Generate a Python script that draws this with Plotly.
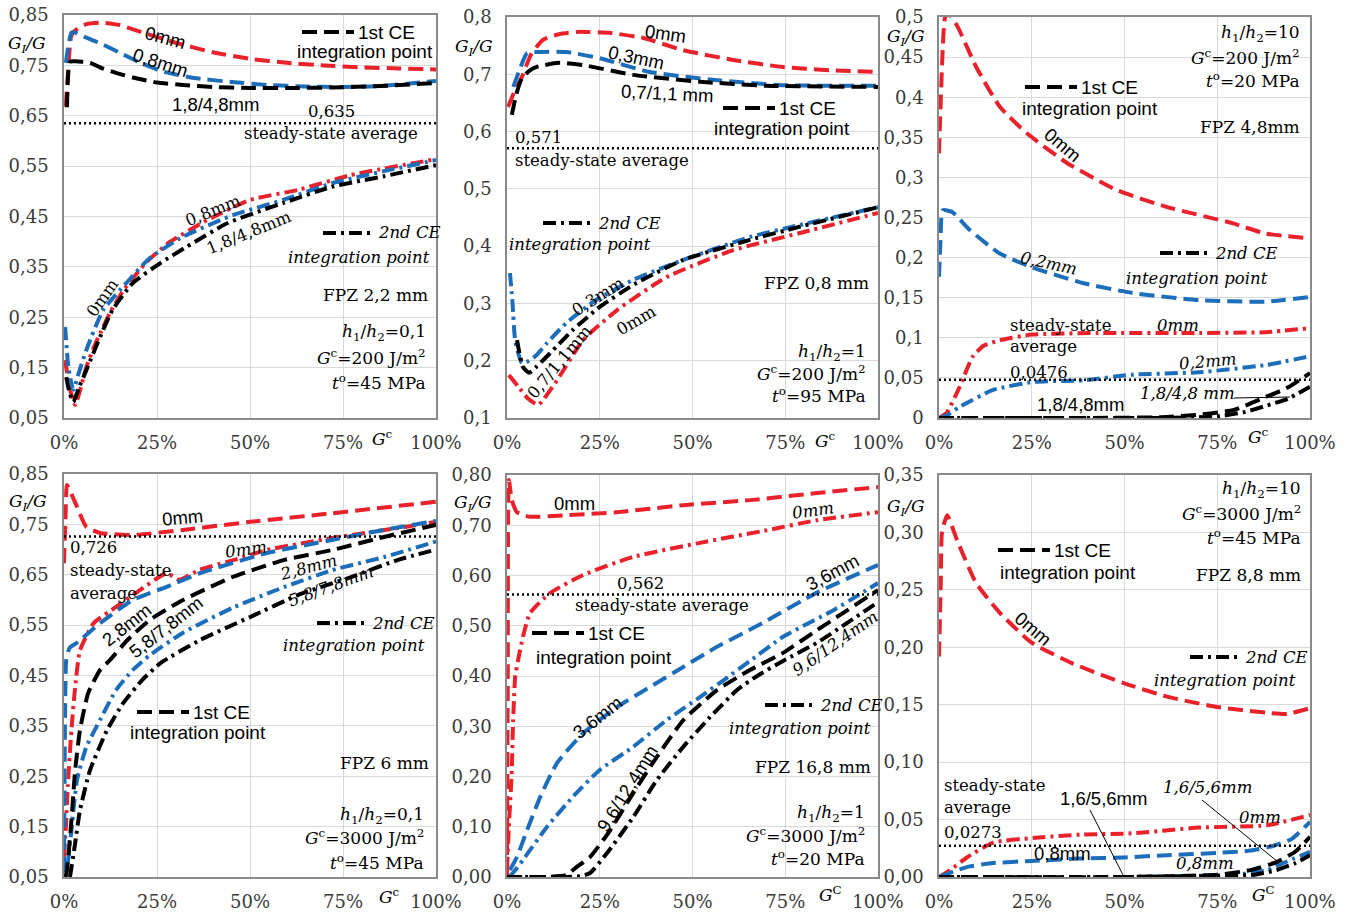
import plotly.graph_objects as go

W, H = 1352, 912
RED = "#E8212B"
BLUE = "#1C6DBA"
BLACK = "#000000"
SERIF = "DejaVu Serif"
SANS = "Liberation Sans"
DASH_1ST = "15px,7px"
DASH_2ND = "13px,5px,3px,5px"
LW = 4

# ---------------- axis ticks ----------------
x_ticks = [0, 25, 50, 75, 100]
x_labels = ["0%", "25%", "50%", "75%", "100%"]

a_yticks = [0.05, 0.15, 0.25, 0.35, 0.45, 0.55, 0.65, 0.75, 0.85]
a_ylabels = ["0,05", "0,15", "0,25", "0,35", "0,45", "0,55", "0,65", "0,75", "0,85"]
b_yticks = [0.1, 0.2, 0.3, 0.4, 0.5, 0.6, 0.7, 0.8]
b_ylabels = ["0,1", "0,2", "0,3", "0,4", "0,5", "0,6", "0,7", "0,8"]
c_yticks = [0, 0.05, 0.1, 0.15, 0.2, 0.25, 0.3, 0.35, 0.4, 0.45, 0.5]
c_ylabels = ["0", "0,05", "0,1", "0,15", "0,2", "0,25", "0,3", "0,35", "0,4", "0,45", "0,5"]
d_yticks = a_yticks
d_ylabels = a_ylabels
e_yticks = [0, 0.1, 0.2, 0.3, 0.4, 0.5, 0.6, 0.7, 0.8]
e_ylabels = ["0,00", "0,10", "0,20", "0,30", "0,40", "0,50", "0,60", "0,70", "0,80"]
f_yticks = [0, 0.05, 0.1, 0.15, 0.2, 0.25, 0.3, 0.35]
f_ylabels = ["0,00", "0,05", "0,10", "0,15", "0,20", "0,25", "0,30", "0,35"]

# steady-state averages of G_I/G, one per panel
steady_avg = [0.635, 0.571, 0.0476, 0.726, 0.562, 0.0273]

# ---------------- panel a: h1/h2=0,1  Gc=200  to=45 ----------------
a_ce1_0mm_x = [0.5, 1.2, 2, 3.5, 6, 10, 15, 20, 30, 40, 50, 60, 70, 80, 90, 100]
a_ce1_0mm_y = [0.668, 0.75, 0.81, 0.822, 0.832, 0.835, 0.83, 0.818, 0.795, 0.776, 0.763, 0.755, 0.75, 0.746, 0.744, 0.742]
a_ce1_08_x = [0.5, 1.2, 2, 3, 6, 10, 15, 20, 27, 35, 45, 55, 65, 75, 85, 100]
a_ce1_08_y = [0.755, 0.79, 0.815, 0.815, 0.805, 0.793, 0.775, 0.757, 0.737, 0.725, 0.717, 0.711, 0.708, 0.707, 0.709, 0.719]
a_ce1_far_x = [0.8, 1.6, 3, 5, 7, 10, 14, 18.5, 25, 32, 40, 50, 60, 72, 85, 100]
a_ce1_far_y = [0.667, 0.757, 0.758, 0.757, 0.755, 0.745, 0.735, 0.726, 0.716, 0.711, 0.707, 0.705, 0.705, 0.706, 0.709, 0.715]
a_ce2_0mm_x = [0.3, 1.5, 3, 4.5, 6, 8, 10, 12.3, 16, 22, 28, 38.5, 50, 63, 77, 100]
a_ce2_0mm_y = [0.165, 0.11, 0.076, 0.11, 0.151, 0.19, 0.222, 0.258, 0.304, 0.358, 0.397, 0.443, 0.483, 0.503, 0.532, 0.564]
a_ce2_08_x = [0.3, 1.2, 2.5, 4, 6, 10.5, 17, 23, 32, 45.5, 59, 72, 86, 100]
a_ce2_08_y = [0.231, 0.15, 0.106, 0.14, 0.185, 0.264, 0.32, 0.367, 0.41, 0.453, 0.483, 0.516, 0.54, 0.562]
a_ce2_far_x = [0.6, 1.5, 2.5, 4, 6, 9.7, 13, 18.5, 26, 33, 44, 59, 72, 86, 100]
a_ce2_far_y = [0.131, 0.1, 0.082, 0.11, 0.145, 0.211, 0.264, 0.318, 0.358, 0.39, 0.437, 0.477, 0.509, 0.53, 0.552]

# ---------------- panel b: h1/h2=1  Gc=200  to=95 ----------------
b_ce1_0mm_x = [0.3, 2, 4, 6.5, 9.7, 14, 19, 28, 37, 47.5, 61, 74, 87, 100]
b_ce1_0mm_y = [0.643, 0.67, 0.695, 0.735, 0.76, 0.77, 0.774, 0.772, 0.763, 0.742, 0.725, 0.713, 0.707, 0.704]
b_ce1_03_x = [1.7, 3.5, 5.4, 9, 16, 25, 38.5, 56, 74, 100]
b_ce1_03_y = [0.678, 0.71, 0.737, 0.739, 0.739, 0.728, 0.704, 0.69, 0.681, 0.68]
b_ce1_far_x = [1.3, 2.5, 4, 6, 8, 14, 20.5, 34, 52, 70, 100]
b_ce1_far_y = [0.629, 0.665, 0.693, 0.706, 0.713, 0.72, 0.716, 0.699, 0.687, 0.68, 0.678]
b_ce2_0mm_x = [0.5, 3, 5.5, 8.4, 13.5, 20.5, 29.6, 43, 61, 79, 100]
b_ce2_0mm_y = [0.175, 0.155, 0.135, 0.123, 0.166, 0.236, 0.288, 0.346, 0.393, 0.423, 0.458]
b_ce2_03_x = [0.8, 1.5, 2.2, 4, 6, 8, 10.8, 16, 24, 34, 47.5, 65.5, 79, 100]
b_ce2_03_y = [0.353, 0.3, 0.236, 0.196, 0.2, 0.21, 0.231, 0.266, 0.306, 0.341, 0.376, 0.416, 0.437, 0.468]
b_ce2_far_x = [2.7, 4.3, 6, 8, 11.6, 17.8, 25, 35, 47.5, 65.5, 79, 100]
b_ce2_far_y = [0.236, 0.189, 0.179, 0.19, 0.213, 0.254, 0.294, 0.336, 0.376, 0.411, 0.434, 0.468]

# ---------------- panel c: h1/h2=10  Gc=200  to=20 ----------------
c_ce1_0mm_x = [0, 0.5, 1, 1.6, 2.5, 5, 10, 16.4, 23.7, 34.5, 48, 61.5, 79, 88, 100]
c_ce1_0mm_y = [0.33, 0.4, 0.46, 0.499, 0.505, 0.488, 0.438, 0.388, 0.355, 0.318, 0.284, 0.263, 0.243, 0.23, 0.224]
c_ce1_02_x = [0, 0.4, 1, 3.5, 8.4, 16.4, 25, 39, 52, 70, 88, 100]
c_ce1_02_y = [0.176, 0.22, 0.259, 0.257, 0.234, 0.205, 0.188, 0.168, 0.156, 0.147, 0.145, 0.151]
c_ce1_far_x = [0, 20, 40, 60, 70, 79.5, 88, 94, 100]
c_ce1_far_y = [0, 0, 0, 0.001, 0.004, 0.01, 0.026, 0.038, 0.056]
c_ce2_0mm_x = [0, 2, 5.6, 9, 12, 16.4, 25, 43, 70, 88, 100]
c_ce2_0mm_y = [0, 0.006, 0.039, 0.076, 0.09, 0.097, 0.104, 0.106, 0.106, 0.107, 0.112]
c_ce2_02_x = [0, 2, 5.6, 14.6, 25.5, 39, 52, 70, 88, 100]
c_ce2_02_y = [0, 0.003, 0.014, 0.035, 0.045, 0.047, 0.054, 0.057, 0.066, 0.077]
c_ce2_far_x = [0, 30, 60, 75, 82, 88, 94, 100]
c_ce2_far_y = [0, 0, 0, 0.002, 0.007, 0.015, 0.024, 0.039]

# ---------------- panel d: h1/h2=0,1  Gc=3000  to=45 ----------------
d_ce1_0mm_x = [0, 0.4, 0.8, 2, 3.5, 6, 9.7, 18.5, 32, 50, 72, 100]
d_ce1_0mm_y = [0.673, 0.76, 0.828, 0.81, 0.785, 0.745, 0.733, 0.729, 0.739, 0.755, 0.772, 0.795]
d_ce1_28_x = [0, 0.3, 0.6, 1.5, 3.5, 9.7, 18.5, 27.6, 36.5, 54.5, 72, 86, 100]
d_ce1_28_y = [0.06, 0.38, 0.48, 0.505, 0.515, 0.554, 0.6, 0.626, 0.653, 0.693, 0.719, 0.739, 0.757]
d_ce1_far_x = [0.4, 0.8, 2, 3, 4.3, 6.5, 9.7, 12.4, 17, 23, 32, 45.5, 59, 72, 86, 100]
d_ce1_far_y = [0.05, 0.064, 0.163, 0.262, 0.342, 0.415, 0.461, 0.481, 0.52, 0.56, 0.6, 0.646, 0.679, 0.699, 0.725, 0.749]
d_ce2_0mm_x = [0, 0.5, 1, 2, 3, 4.3, 8, 14, 20.5, 27.6, 31, 36.5, 45.5, 54.5, 72, 90, 100]
d_ce2_0mm_y = [0.09, 0.15, 0.229, 0.342, 0.427, 0.5, 0.554, 0.586, 0.62, 0.653, 0.64, 0.66, 0.679, 0.699, 0.723, 0.743, 0.755]
d_ce2_28_x = [1, 2, 3.5, 6, 9.7, 14, 18.5, 23, 32, 45.5, 59, 72, 86, 100]
d_ce2_28_y = [0.077, 0.143, 0.243, 0.308, 0.362, 0.421, 0.461, 0.49, 0.535, 0.585, 0.625, 0.659, 0.685, 0.716]
d_ce2_far_x = [1.6, 3, 4.3, 7, 11.6, 15.9, 21, 26, 36.5, 50, 63, 77, 90, 100]
d_ce2_far_y = [0.05, 0.117, 0.183, 0.262, 0.342, 0.395, 0.441, 0.475, 0.52, 0.566, 0.61, 0.645, 0.68, 0.7]

# ---------------- panel e: h1/h2=1  Gc=3000  to=20 ----------------
e_ce1_0mm_x = [0, 0.2, 0.5, 1.3, 2.7, 6, 16, 29.6, 47.5, 65.5, 83.5, 100]
e_ce1_0mm_y = [0.0, 0.4, 0.79, 0.75, 0.726, 0.717, 0.72, 0.726, 0.74, 0.75, 0.764, 0.776]
e_ce1_36_x = [0.8, 2.7, 5.4, 9, 13.5, 20.5, 29.6, 38.5, 47.5, 56.6, 70, 83.5, 100]
e_ce1_36_y = [0.014, 0.04, 0.093, 0.16, 0.227, 0.286, 0.338, 0.378, 0.418, 0.458, 0.51, 0.566, 0.621]
e_ce1_far_x = [0, 10, 16, 18.8, 22.4, 27.8, 34, 40.4, 47.5, 56.6, 65.5, 74.4, 83.5, 100]
e_ce1_far_y = [0, 0, 0.004, 0.02, 0.04, 0.093, 0.167, 0.239, 0.312, 0.372, 0.412, 0.446, 0.491, 0.571]
e_ce2_0mm_x = [0, 0.5, 1.3, 1.6, 2.2, 3, 4.3, 6.2, 11.6, 20.5, 34, 52, 70, 83.5, 100]
e_ce2_0mm_y = [0.014, 0.1, 0.213, 0.3, 0.398, 0.432, 0.478, 0.525, 0.565, 0.601, 0.637, 0.665, 0.69, 0.71, 0.726]
e_ce2_36_x = [0.5, 1.6, 4.3, 10.8, 17.8, 25, 34, 43, 52, 59, 65.5, 74.4, 88, 100]
e_ce2_36_y = [0, 0.008, 0.034, 0.1, 0.16, 0.213, 0.259, 0.312, 0.358, 0.395, 0.43, 0.478, 0.531, 0.585]
e_ce2_far_x = [0, 15, 20, 22.4, 27, 34, 40.4, 47.5, 54.7, 62, 67.4, 74.4, 83.5, 100]
e_ce2_far_y = [0, 0, 0.002, 0.008, 0.048, 0.119, 0.193, 0.259, 0.318, 0.372, 0.4, 0.43, 0.466, 0.547]

# ---------------- panel f: h1/h2=10  Gc=3000  to=45 ----------------
f_ce1_0mm_x = [0, 0.5, 0.8, 2.2, 4.9, 10, 16.4, 25, 36, 49.6, 61.5, 75, 88.4, 93.8, 100]
f_ce1_0mm_y = [0.192, 0.26, 0.3, 0.315, 0.293, 0.256, 0.23, 0.204, 0.186, 0.169, 0.157, 0.148, 0.143, 0.142, 0.147]
f_ce1_08_x = [0, 4, 8, 14, 25, 38, 50, 61.5, 75, 84, 90, 95, 100]
f_ce1_08_y = [0, 0.005, 0.009, 0.012, 0.014, 0.016, 0.017, 0.019, 0.021, 0.023, 0.027, 0.033, 0.048]
f_ce1_far_x = [0, 50, 75, 84, 91, 96, 100]
f_ce1_far_y = [0, 0, 0.002, 0.006, 0.013, 0.022, 0.035]
f_ce2_0mm_x = [0, 3, 7.5, 14.6, 25.3, 38.8, 52, 70, 88.4, 100]
f_ce2_0mm_y = [0, 0.006, 0.017, 0.03, 0.034, 0.037, 0.038, 0.043, 0.045, 0.054]
f_ce2_08_x = [0, 50, 80, 88.4, 92.7, 100]
f_ce2_08_y = [0, 0, 0.002, 0.006, 0.012, 0.022]
f_ce2_far_x = [0, 50, 85, 91, 96, 100]
f_ce2_far_y = [0, 0, 0.002, 0.006, 0.012, 0.019]

# ---------------- figure ----------------
fig = go.Figure()

# plot-area boxes in pixels: (left, right, top, bottom)
boxes = [(64, 436, 15, 418), (507, 878, 17, 418), (939, 1310, 17, 418),
         (64, 436, 474, 877), (507, 878, 475, 877), (939, 1310, 475, 877)]
yranges = [(0.05, 0.85), (0.1, 0.8), (0, 0.5), (0.05, 0.85), (0, 0.8), (0, 0.35)]
yticks = [(a_yticks, a_ylabels), (b_yticks, b_ylabels), (c_yticks, c_ylabels),
          (d_yticks, d_ylabels), (e_yticks, e_ylabels), (f_yticks, f_ylabels)]

axes = {}
for i, ((l, r, t, b), yr, (tv, tt)) in enumerate(zip(boxes, yranges, yticks)):
    n = "" if i == 0 else str(i + 1)
    common = dict(showline=True, mirror=True, linecolor="#8a8a8a", linewidth=1.6,
                  showgrid=True, gridcolor="#d9d9d9", gridwidth=1, zeroline=False,
                  automargin=False, ticks="",
                  tickfont=dict(family=SERIF, size=18, color="#3a3a3a"))
    axes[f"xaxis{n}"] = dict(common, domain=[l / W, r / W], anchor=f"y{n}",
                             range=[0, 100], tickvals=x_ticks, ticktext=x_labels,
                             ticklabelstandoff=8)
    axes[f"yaxis{n}"] = dict(common, domain=[1 - b / H, 1 - t / H], anchor=f"x{n}",
                             range=list(yr), tickvals=tv, ticktext=tt,
                             ticklabelstandoff=10)
fig.update_layout(**axes)


def curve(panel, x, y, color, dash):
    n = "" if panel == 1 else str(panel)
    fig.add_trace(go.Scatter(x=x, y=y, xaxis=f"x{n}", yaxis=f"y{n}", mode="lines",
                             line=dict(color=color, width=LW, dash=dash,
                                       shape="spline", smoothing=0.5),
                             showlegend=False, hoverinfo="skip"))


def steady(panel, value):
    n = "" if panel == 1 else str(panel)
    fig.add_trace(go.Scatter(x=[0, 100], y=[value, value], xaxis=f"x{n}", yaxis=f"y{n}",
                             mode="lines", line=dict(color=BLACK, width=2.5, dash="2px,3px"),
                             showlegend=False, hoverinfo="skip"))


series = [
    (1, a_ce2_0mm_x, a_ce2_0mm_y, RED, DASH_2ND), (1, a_ce2_08_x, a_ce2_08_y, BLUE, DASH_2ND),
    (1, a_ce2_far_x, a_ce2_far_y, BLACK, DASH_2ND),
    (1, a_ce1_0mm_x, a_ce1_0mm_y, RED, DASH_1ST), (1, a_ce1_08_x, a_ce1_08_y, BLUE, DASH_1ST),
    (1, a_ce1_far_x, a_ce1_far_y, BLACK, DASH_1ST),
    (2, b_ce2_0mm_x, b_ce2_0mm_y, RED, DASH_2ND), (2, b_ce2_03_x, b_ce2_03_y, BLUE, DASH_2ND),
    (2, b_ce2_far_x, b_ce2_far_y, BLACK, DASH_2ND),
    (2, b_ce1_0mm_x, b_ce1_0mm_y, RED, DASH_1ST), (2, b_ce1_03_x, b_ce1_03_y, BLUE, DASH_1ST),
    (2, b_ce1_far_x, b_ce1_far_y, BLACK, DASH_1ST),
    (3, c_ce2_0mm_x, c_ce2_0mm_y, RED, DASH_2ND), (3, c_ce2_02_x, c_ce2_02_y, BLUE, DASH_2ND),
    (3, c_ce2_far_x, c_ce2_far_y, BLACK, DASH_2ND),
    (3, c_ce1_0mm_x, c_ce1_0mm_y, RED, DASH_1ST), (3, c_ce1_02_x, c_ce1_02_y, BLUE, DASH_1ST),
    (3, c_ce1_far_x, c_ce1_far_y, BLACK, DASH_1ST),
    (4, d_ce2_0mm_x, d_ce2_0mm_y, RED, DASH_2ND), (4, d_ce2_28_x, d_ce2_28_y, BLUE, DASH_2ND),
    (4, d_ce2_far_x, d_ce2_far_y, BLACK, DASH_2ND),
    (4, d_ce1_0mm_x, d_ce1_0mm_y, RED, DASH_1ST), (4, d_ce1_28_x, d_ce1_28_y, BLUE, DASH_1ST),
    (4, d_ce1_far_x, d_ce1_far_y, BLACK, DASH_1ST),
    (5, e_ce2_0mm_x, e_ce2_0mm_y, RED, DASH_2ND), (5, e_ce2_36_x, e_ce2_36_y, BLUE, DASH_2ND),
    (5, e_ce2_far_x, e_ce2_far_y, BLACK, DASH_2ND),
    (5, e_ce1_0mm_x, e_ce1_0mm_y, RED, DASH_1ST), (5, e_ce1_36_x, e_ce1_36_y, BLUE, DASH_1ST),
    (5, e_ce1_far_x, e_ce1_far_y, BLACK, DASH_1ST),
    (6, f_ce2_0mm_x, f_ce2_0mm_y, RED, DASH_2ND), (6, f_ce2_08_x, f_ce2_08_y, BLUE, DASH_2ND),
    (6, f_ce2_far_x, f_ce2_far_y, BLACK, DASH_2ND),
    (6, f_ce1_0mm_x, f_ce1_0mm_y, RED, DASH_1ST), (6, f_ce1_08_x, f_ce1_08_y, BLUE, DASH_1ST),
    (6, f_ce1_far_x, f_ce1_far_y, BLACK, DASH_1ST),
]
for p, x, y, c, d in series:
    curve(p, x, y, c, d)

for p, v in enumerate(steady_avg, start=1):
    steady(p, v)


def fmt(v):
    return str(v).replace(".", ",")


notes = []
shapes = []


def note(cx, cy, text, family=SERIF, size=16.5, angle=0, anchor="center"):
    notes.append(dict(x=cx / W, y=1 - cy / H, xref="paper", yref="paper", text=text,
                      showarrow=False, textangle=angle, xanchor=anchor, yanchor="middle",
                      font=dict(family=family, size=size, color=BLACK)))


def seg(x0, y0, x1, y1, dash="solid", width=1, color=BLACK):
    shapes.append(dict(type="line", xref="paper", yref="paper", x0=x0 / W, y0=1 - y0 / H,
                       x1=x1 / W, y1=1 - y1 / H, line=dict(color=color, width=width, dash=dash)))


def key_1st(x0, y, cx2, y2):
    seg(x0, y, x0 + 52, y, dash=DASH_1ST, width=4)
    note(x0 + 54, y, "1st CE", SANS, 19, anchor="left")
    note(cx2, y2, "integration point", SANS, 19)


def key_2nd(x0, y, right2, y2, gap=6):
    seg(x0, y, x0 + 47, y, dash=DASH_2ND, width=4)
    note(x0 + 47 + gap, y, "<i>2nd CE</i>", SERIF, 16.5, anchor="left")
    note(right2, y2, "<i>integration point</i>", SERIF, 16.5, anchor="right")


def params(right, ys, ratio, gc, to):
    note(right, ys[0], f"<i>h</i><sub>1</sub>/<i>h</i><sub>2</sub>={ratio}", anchor="right", size=17)
    note(right, ys[1], f"<i>G</i><sup>c</sup>={gc} J/m<sup>2</sup>", anchor="right", size=17)
    note(right, ys[2], f"<i>t</i><sup>o</sup>={to} MPa", anchor="right", size=17)


# axis captions
for cx, cy in [(27, 45), (474, 48), (906, 37), (28, 502), (473, 503), (906, 508)]:
    note(cx, cy, "<i>G<sub>I</sub>/G</i>", SERIF, 17)
for cx, cy, sup in [(382, 438, "c"), (826, 440, "c"), (1258, 436, "c"),
                    (389, 896, "c"), (830, 894, "C"), (1263, 894, "C")]:
    note(cx, cy, f"<i>G</i><sup>{sup}</sup>", SERIF, 17)

# panel a
note(165, 37, "0mm", SANS, 18.5, 15)
note(160, 63, "0,8mm", SANS, 18.5, 18)
note(215, 104, "1,8/4,8mm", SANS, 18.5)
note(331, 111, fmt(steady_avg[0]))
note(331, 134, "steady-state average")
key_1st(302, 32, 365, 52)
note(213, 210, "0,8mm", SERIF, 16.5, -22)
note(249, 232, "1,8/4,8mm", SERIF, 16.5, -22)
note(103, 298, "0mm", SERIF, 16.5, -55)
key_2nd(323, 233, 432, 257)
note(430, 295, "FPZ 2,2 mm", anchor="right", size=17)
params(428, (333, 357, 382), "0,1", 200, 45)

# panel b
note(665, 34, "0mm", SANS, 18.5, 8)
note(636, 57, "0,3mm", SANS, 18.5, 12)
note(667, 93, "0,7/1,1 mm", SANS, 18.5, 3)
key_1st(723, 108, 782, 128)
note(513, 137, fmt(steady_avg[1]), anchor="left")
note(513, 160, "steady-state average", anchor="left")
key_2nd(543, 223, 653, 245)
note(871, 283, "FPZ 0,8 mm", anchor="right", size=17)
note(598, 296, "0,3mm", SERIF, 16.5, -32)
note(560, 362, "0,7/1,1mm", SERIF, 16.5, -50)
note(636, 320, "0mm", SERIF, 16.5, -30)
params(868, (352, 373, 395), "1", 200, 95)

# panel c
key_1st(1025, 87, 1090, 108)
params(1302, (34, 57, 80), "10", 200, 20)
note(1302, 127, "FPZ 4,8mm", anchor="right", size=17)
note(1062, 145, "0mm", SANS, 18.5, 40)
note(1049, 263, "<i>0,2mm</i>", SERIF, 16.5, 12)
key_2nd(1160, 253, 1270, 278)
note(1008, 325, "steady-state", anchor="left")
note(1008, 347, "average", anchor="left")
note(1008, 372, fmt(steady_avg[2]), anchor="left")
note(1178, 325, "<i>0mm</i>")
note(1208, 362, "<i>0,2mm</i>", SERIF, 16.5, -5)
note(1187, 393, "<i>1,8/4,8 mm</i>")
seg(1234, 398, 1290, 397)
note(1080, 405, "1,8/4,8mm", SANS, 18.5)

# panel d
note(182, 517, "0mm", SANS, 18.5, -5)
note(68, 547, fmt(steady_avg[3]), anchor="left")
note(68, 570, "steady-state", anchor="left")
note(68, 593, "average", anchor="left")
note(246, 549, "<i>0mm</i>", SERIF, 16.5, -8)
note(308, 567, "<i>2,8mm</i>", SERIF, 16.5, -15)
note(330, 586, "<i>5,8/7,8mm</i>", SERIF, 16.5, -20)
note(127, 624, "2,8mm", SANS, 18.5, -38)
note(165, 627, "5,8/7,8mm", SANS, 18.5, -38)
key_2nd(317, 623, 427, 645)
key_1st(137, 712, 198, 732)
note(431, 763, "FPZ 6 mm", anchor="right", size=17)
params(426, (815, 837, 862), "0,1", 3000, 45)

# panel e
note(574, 503, "0mm", SANS, 18.5)
note(813, 510, "<i>0mm</i>", SERIF, 16.5, -8)
note(832, 572, "3,6mm", SANS, 18.5, -28)
note(640, 583, fmt(steady_avg[4]))
note(662, 605, "steady-state average")
key_1st(532, 633, 604, 657)
note(835, 643, "<i>9,6/12,4mm</i>", SERIF, 16.5, -35)
note(597, 717, "3,6mm", SANS, 18.5, -38)
note(627, 788, "9,6/12,4mm", SANS, 18.5, -58)
key_2nd(765, 705, 873, 728)
note(873, 767, "FPZ 16,8 mm", anchor="right", size=17)
params(867, (813, 835, 858), "1", 3000, 20)

# panel f
params(1303, (490, 513, 537), "10", 3000, 45)
note(1303, 575, "FPZ 8,8 mm", anchor="right", size=17)
key_1st(998, 550, 1068, 572)
note(1033, 628, "0mm", SANS, 18.5, 40)
key_2nd(1190, 657, 1298, 680)
note(942, 785, "steady-state", anchor="left")
note(942, 807, "average", anchor="left")
note(942, 832, fmt(steady_avg[5]), anchor="left")
note(1103, 798, "1,6/5,6mm", SANS, 18.5)
seg(1090, 810, 1123, 875)
note(1207, 787, "<i>1,6/5,6mm</i>")
seg(1202, 800, 1278, 862)
note(1260, 817, "<i>0mm</i>")
note(1062, 853, "0,8mm", SANS, 18.5)
note(1205, 863, "<i>0,8mm</i>")

fig.update_layout(width=W, height=H, margin=dict(l=0, r=0, t=0, b=0), autosize=False,
                  paper_bgcolor="white", plot_bgcolor="white", showlegend=False,
                  annotations=notes, shapes=shapes)

fig.write_html("out.html")
